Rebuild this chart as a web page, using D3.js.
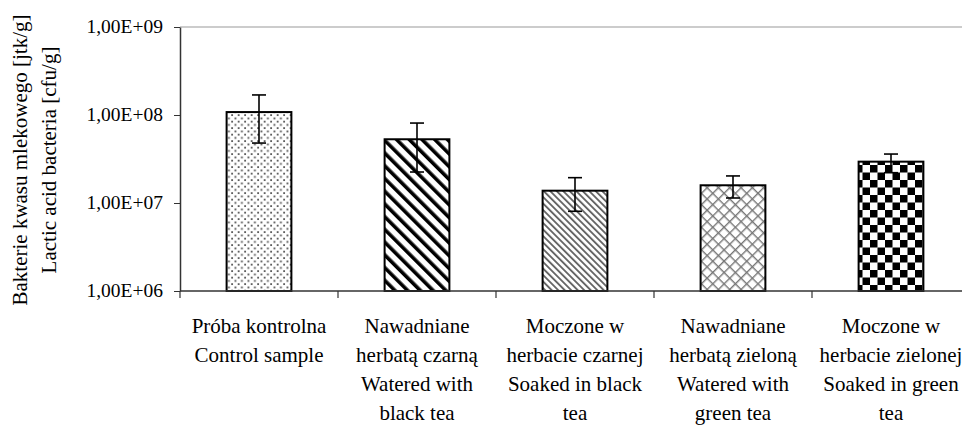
<!DOCTYPE html>
<html>
<head>
<meta charset="utf-8">
<script src="https://cdn.jsdelivr.net/npm/d3@7/dist/d3.min.js"></script>
</head>
<body style="margin:0">
<svg id="chart" width="962" height="425"></svg>
<script>
// ---- data ----
const categories = [
  ["Próba kontrolna", "Control sample"],
  ["Nawadniane", "herbatą czarną", "Watered with", "black tea"],
  ["Moczone w", "herbacie czarnej", "Soaked in black", "tea"],
  ["Nawadniane", "herbatą zieloną", "Watered with", "green tea"],
  ["Moczone w", "herbacie zielonej", "Soaked in green", "tea"]
];
const values   = [1.08e8, 5.3e7, 1.38e7, 1.59e7, 2.95e7];
const errHigh  = [1.69e8, 8.1e7, 1.94e7, 2.03e7, 3.6e7];
const errLow   = [4.8e7, 2.25e7, 8.05e6, 1.14e7, 2.21e7];
const yTicks   = [1e6, 1e7, 1e8, 1e9];
const yTickLabels = ["1,00E+06", "1,00E+07", "1,00E+08", "1,00E+09"];
const yTitle   = ["Bakterie kwasu mlekowego [jtk/g]", "Lactic acid bacteria [cfu/g]"];
const patterns = ["dots", "wideDiag", "thinDiag", "cross", "checker"];

const svg = d3.select("#chart");
const mLeft = 180, mTop = 27, mBottom = 291, mRight = 970;

const x = d3.scaleBand().domain(d3.range(categories.length)).range([mLeft, mRight]).padding(0);
const y = d3.scaleLog().domain([1e6, 1e9]).range([mBottom, mTop]);
const barW = x.bandwidth() * 0.41;

// ---- patterns ----
const defs = svg.append("defs");
let p = defs.append("pattern").attr("id", "dots").attr("patternUnits", "userSpaceOnUse")
  .attr("width", 6.5).attr("height", 6.5);
p.append("rect").attr("width", 6.5).attr("height", 6.5).attr("fill", "#fff");
p.append("rect").attr("x", 0.5).attr("y", 0.5).attr("width", 1.8).attr("height", 1.8).attr("fill", "#555");
p.append("rect").attr("x", 3.75).attr("y", 3.75).attr("width", 1.8).attr("height", 1.8).attr("fill", "#555");

p = defs.append("pattern").attr("id", "wideDiag").attr("patternUnits", "userSpaceOnUse")
  .attr("width", 9).attr("height", 9).attr("patternTransform", "rotate(-45)");
p.append("rect").attr("width", 9).attr("height", 9).attr("fill", "#fff");
p.append("rect").attr("x", 0).attr("y", 0).attr("width", 3.6).attr("height", 9).attr("fill", "#000");

p = defs.append("pattern").attr("id", "thinDiag").attr("patternUnits", "userSpaceOnUse")
  .attr("width", 4.6).attr("height", 4.6).attr("patternTransform", "rotate(-45)");
p.append("rect").attr("width", 4.6).attr("height", 4.6).attr("fill", "#fff");
p.append("rect").attr("x", 0).attr("y", 0).attr("width", 1.9).attr("height", 4.6).attr("fill", "#666");

p = defs.append("pattern").attr("id", "cross").attr("patternUnits", "userSpaceOnUse")
  .attr("width", 8).attr("height", 8).attr("patternTransform", "rotate(45)");
p.append("rect").attr("width", 8).attr("height", 8).attr("fill", "#fff");
p.append("rect").attr("x", 0).attr("y", 0).attr("width", 1.4).attr("height", 8).attr("fill", "#777");
p.append("rect").attr("x", 0).attr("y", 0).attr("width", 8).attr("height", 1.4).attr("fill", "#777");

p = defs.append("pattern").attr("id", "checker").attr("patternUnits", "userSpaceOnUse")
  .attr("width", 15).attr("height", 15);
p.append("rect").attr("width", 15).attr("height", 15).attr("fill", "#fff");
p.append("rect").attr("x", 0).attr("y", 0).attr("width", 7.5).attr("height", 7.5).attr("fill", "#000");
p.append("rect").attr("x", 7.5).attr("y", 7.5).attr("width", 7.5).attr("height", 7.5).attr("fill", "#000");

// ---- top border line ----
svg.append("line").attr("x1", mLeft).attr("x2", 962).attr("y1", mTop).attr("y2", mTop)
  .attr("stroke", "#999").attr("stroke-width", 1);

// ---- bars ----
svg.append("g").selectAll("rect").data(values).join("rect")
  .attr("x", (d, i) => x(i) + (x.bandwidth() - barW) / 2)
  .attr("y", d => y(d))
  .attr("width", barW)
  .attr("height", d => mBottom - y(d))
  .attr("fill", (d, i) => `url(#${patterns[i]})`)
  .attr("stroke", "#000").attr("stroke-width", 2);

// ---- error bars ----
const eg = svg.append("g").attr("stroke", "#000").attr("stroke-width", 1.6);
values.forEach((v, i) => {
  const cx = x(i) + x.bandwidth() / 2;
  eg.append("line").attr("x1", cx).attr("x2", cx).attr("y1", y(errHigh[i])).attr("y2", y(errLow[i]));
  eg.append("line").attr("x1", cx - 7).attr("x2", cx + 7).attr("y1", y(errHigh[i])).attr("y2", y(errHigh[i]));
  eg.append("line").attr("x1", cx - 7).attr("x2", cx + 7).attr("y1", y(errLow[i])).attr("y2", y(errLow[i]));
});

// ---- y axis ----
const yAxis = d3.axisLeft(y).tickValues(yTicks).tickSize(6).tickSizeOuter(0)
  .tickFormat((d, i) => yTickLabels[i]);
const ya = svg.append("g").attr("transform", `translate(${mLeft},0)`).call(yAxis);
ya.attr("font-family", null).attr("font-size", null);
ya.select(".domain").attr("stroke", "#333").attr("stroke-width", 1.5);
ya.selectAll(".tick line").attr("stroke", "#333");
ya.selectAll(".tick text").remove();
yTicks.forEach((t, i) => {
  svg.append("text").attr("x", mLeft - 17).attr("y", y(t)).attr("dy", "0.32em")
    .attr("text-anchor", "end").attr("font-size", 19.5)
    .attr("font-family", "Liberation Serif").text(yTickLabels[i]);
});

// ---- x axis ----
const xa = svg.append("g").attr("transform", `translate(0,${mBottom})`);
xa.append("line").attr("x1", mLeft).attr("x2", mRight).attr("y1", 0).attr("y2", 0)
  .attr("stroke", "#333").attr("stroke-width", 1.5);
d3.range(categories.length + 1).forEach(i => {
  const xx = mLeft + i * x.step();
  xa.append("line").attr("x1", xx).attr("x2", xx).attr("y1", 0).attr("y2", 7)
    .attr("stroke", "#333").attr("stroke-width", 1.2);
});
categories.forEach((lines, i) => {
  lines.forEach((l, j) => {
    svg.append("text").attr("text-anchor", "middle").attr("font-size", 21)
      .attr("font-family", "Liberation Serif")
      .attr("x", x(i) + x.bandwidth() / 2).attr("y", mBottom + 41.7 + j * 29.1).text(l);
  });
});

// ---- y title ----
yTitle.forEach((l, j) => {
  svg.append("text").attr("text-anchor", "middle").attr("font-size", 21)
    .attr("font-family", "Liberation Serif")
    .attr("transform", `translate(${27 + j * 29},160) rotate(-90)`).text(l);
});
</script>
</body>
</html>
